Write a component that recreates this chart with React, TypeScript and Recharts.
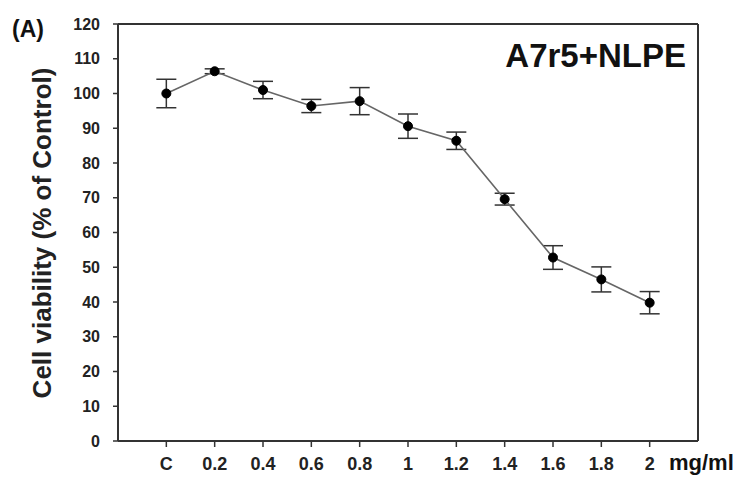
import React from 'react';
import { ComposedChart, Line, XAxis, YAxis, ErrorBar, ReferenceLine } from 'recharts';

const categories = ['C', '0.2', '0.4', '0.6', '0.8', '1', '1.2', '1.4', '1.6', '1.8', '2'];
const viability = [100, 106.4, 101.0, 96.4, 97.8, 90.6, 86.4, 69.6, 52.8, 46.5, 39.8];
const errors = [4.1, 0.7, 2.5, 1.9, 3.9, 3.5, 2.5, 1.7, 3.4, 3.6, 3.2];
const yTicks = [0, 10, 20, 30, 40, 50, 60, 70, 80, 90, 100, 110, 120];

const data = categories.map((c, i) => ({ x: i, label: c, v: viability[i], err: errors[i] }));

const FONT = '"Liberation Sans", Arial, sans-serif';
const AX = '#333';

const XTick = (props: any) => {
  const { x, y, payload } = props;
  return (
    <text x={x} y={y} dy={13} textAnchor="middle" fill="#222" fontSize={18} fontWeight={700} fontFamily={FONT}>
      {categories[payload.value] ?? ''}
    </text>
  );
};

const YTick = (props: any) => {
  const { x, y, payload } = props;
  return (
    <text x={x} y={y} dy={5.5} textAnchor="end" fill="#222" fontSize={16} fontWeight={700} fontFamily={FONT}>
      {payload.value}
    </text>
  );
};

export default function App() {
  return (
    <div style={{ position: 'absolute', left: 0, top: 0, width: 742, height: 481, background: '#fff' }}>
      <ComposedChart width={742} height={481} data={data} margin={{ top: 24, right: 44, left: 0, bottom: 0 }}>
        <XAxis
          dataKey="x"
          type="number"
          domain={[-1, 11]}
          ticks={categories.map((_, i) => i)}
          height={40}
          tickSize={6}
          tickMargin={10}
          axisLine={{ stroke: AX, strokeWidth: 2 }}
          tickLine={{ stroke: AX, strokeWidth: 1.5 }}
          tick={<XTick />}
          interval={0}
        />
        <YAxis
          type="number"
          domain={[0, 120]}
          ticks={yTicks}
          interval={0}
          width={118}
          tickSize={5}
          tickMargin={13}
          axisLine={{ stroke: AX, strokeWidth: 2 }}
          tickLine={{ stroke: AX, strokeWidth: 1.5 }}
          tick={<YTick />}
          label={{
            content: () => (
              <text
                x={51}
                y={233}
                transform="rotate(-90 51 233)"
                textAnchor="middle"
                fill="#222"
                fontSize={26}
                fontWeight={700}
                fontFamily={FONT}
              >
                Cell viability (% of Control)
              </text>
            ),
          }}
        />
        <ReferenceLine y={120} stroke={AX} strokeWidth={2} ifOverflow="extendDomain" />
        <ReferenceLine x={11} stroke={AX} strokeWidth={2} ifOverflow="extendDomain" />
        <Line
          dataKey="v"
          stroke="#666"
          strokeWidth={1.6}
          isAnimationActive={false}
          dot={{ r: 4.5, fill: '#000', stroke: '#000', strokeWidth: 1 }}
          activeDot={false}
        >
          <ErrorBar dataKey="err" width={10} stroke="#333" strokeWidth={1.5} direction="y" />
        </Line>
        <text x={12} y={37} fill="#111" fontSize={23} fontWeight={700} fontFamily={FONT}>(A)</text>
        <text x={686} y={67} textAnchor="end" fill="#111" fontSize={33} fontWeight={700} fontFamily={FONT}>A7r5+NLPE</text>
        <text x={669} y={470} fill="#111" fontSize={22} fontWeight={700} fontFamily={FONT}>mg/ml</text>
      </ComposedChart>
    </div>
  );
}
